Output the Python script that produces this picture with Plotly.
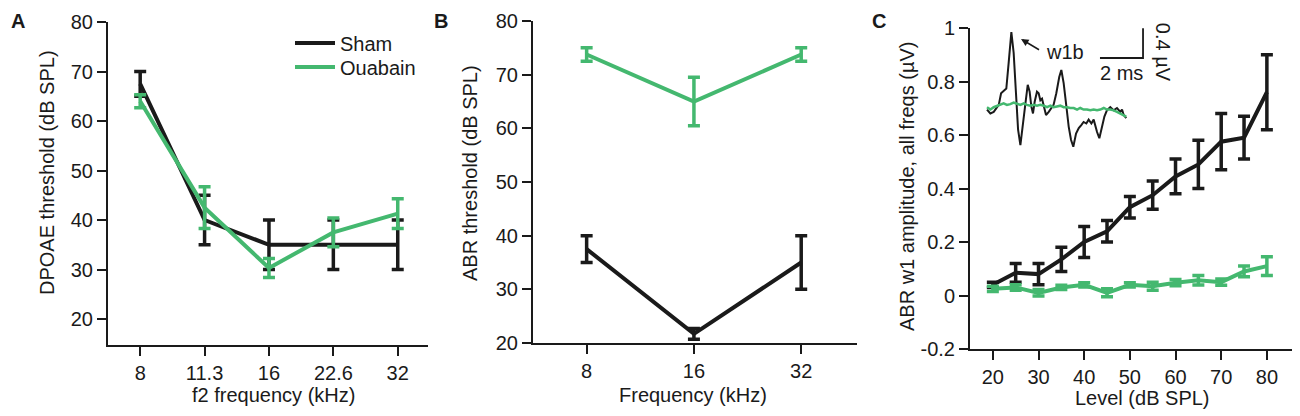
import plotly.graph_objects as go

# page body adds an 8px margin, so the figure is 8px smaller and all positions shifted
OFF = 8
W, H = 1300 - OFF, 416 - OFF
BLACK = "#1a1a1a"
GREEN = "#44B86F"
FONT = "Liberation Sans, Arial, sans-serif"
FS = 20

# ---- Panel A: DPOAE thresholds ----
a_freq = ["8", "11.3", "16", "22.6", "32"]
a_sham = [67.5, 40.0, 35.0, 35.0, 35.0]
a_sham_err = [2.5, 5.0, 5.0, 5.0, 5.0]
a_oua = [64.0, 42.5, 30.3, 37.5, 41.3]
a_oua_err = [1.3, 4.2, 1.9, 2.9, 3.0]
a_yticks = [20, 30, 40, 50, 60, 70, 80]

# ---- Panel B: ABR thresholds ----
b_freq = ["8", "16", "32"]
b_sham = [37.5, 21.7, 35.0]
b_sham_err = [2.5, 1.0, 5.0]
b_oua = [73.75, 65.0, 73.75]
b_oua_err = [1.25, 4.5, 1.25]
b_yticks = [20, 30, 40, 50, 60, 70, 80]

# ---- Panel C: ABR wave 1 amplitude ----
c_level = [20, 25, 30, 35, 40, 45, 50, 55, 60, 65, 70, 75, 80]
c_sham = [0.04, 0.085, 0.08, 0.135, 0.20, 0.24, 0.33, 0.375, 0.445, 0.49, 0.575, 0.59, 0.76]
c_sham_err = [0.01, 0.035, 0.04, 0.045, 0.058, 0.04, 0.04, 0.053, 0.065, 0.09, 0.105, 0.08, 0.14]
c_oua = [0.025, 0.03, 0.01, 0.03, 0.04, 0.01, 0.04, 0.035, 0.048, 0.057, 0.05, 0.09, 0.11]
c_oua_err = [0.01, 0.01, 0.012, 0.008, 0.008, 0.015, 0.008, 0.015, 0.012, 0.018, 0.012, 0.02, 0.035]
c_xticks = [20, 30, 40, 50, 60, 70, 80]
c_yticks = [-0.2, 0, 0.2, 0.4, 0.6, 0.8, 1]
c_yticktext = ["-0.2", "0", "0.2", "0.4", "0.6", "0.8", "1"]

# ---- Panel C inset: example ABR waveforms (ms, µV) ----
sham_t = [0.00, 0.16, 0.32, 0.56, 0.67, 0.79, 0.92, 1.03, 1.16, 1.27, 1.38, 1.48, 1.59, 1.71,
          1.83, 1.94, 2.03, 2.11, 2.19, 2.27, 2.38, 2.46, 2.54, 2.62, 2.70, 2.81, 2.94, 3.06,
          3.17, 3.30, 3.44, 3.54, 3.65, 3.78, 3.89, 4.00, 4.11, 4.24, 4.37, 4.49, 4.60, 4.73,
          4.84, 4.97, 5.08, 5.24, 5.35, 5.48, 5.59, 5.71, 5.87, 6.03, 6.19, 6.35, 6.43, 6.51, 6.63]
sham_v = [-0.02, -0.07, -0.05, 0.04, 0.19, 0.22, 0.25, 0.58, 0.98, 0.71, 0.15, -0.28, -0.48, -0.24,
          0.06, 0.30, 0.21, 0.02, -0.07, 0.08, 0.21, 0.19, 0.10, 0.12, 0.02, -0.09, -0.05, 0.00,
          0.04, 0.19, 0.40, 0.49, 0.32, 0.02, -0.24, -0.41, -0.50, -0.33, -0.26, -0.22, -0.18, -0.20,
          -0.15, -0.20, -0.15, -0.31, -0.39, -0.24, -0.11, -0.03, 0.01, -0.03, 0.00, -0.05, -0.02, -0.09, -0.13]
oua_t = [0.00, 0.16, 0.32, 0.48, 0.63, 0.79, 0.95, 1.11, 1.27, 1.43, 1.59, 1.75, 1.90, 2.06, 2.22,
         2.38, 2.54, 2.70, 2.86, 3.02, 3.17, 3.33, 3.49, 3.65, 3.81, 3.97, 4.13, 4.29, 4.44, 4.60,
         4.76, 4.92, 5.08, 5.24, 5.40, 5.56, 5.71, 5.87, 6.03, 6.19, 6.35, 6.51, 6.63]
oua_v = [0.01, -0.02, 0.01, 0.03, 0.04, 0.06, 0.04, 0.05, 0.07, 0.05, 0.04, 0.06, 0.04, 0.03, 0.04,
         0.03, 0.04, 0.03, 0.01, 0.03, 0.01, 0.02, 0.03, 0.01, 0.01, 0.00, 0.00, -0.02, 0.00, -0.02,
         -0.02, -0.03, -0.02, -0.03, -0.02, 0.00, -0.02, -0.02, -0.03, -0.05, -0.07, -0.09, -0.11]
scalebar_t = [5.38, 7.43, 7.43]
scalebar_v = [0.645, 0.645, 1.03]


def px(x):
    return (x - OFF) / W


def py(y):
    return 1 - (y - OFF) / H


fig = go.Figure()


def add_series(x, y, err, color, name, xa, ya, showlegend=False, legend="legend"):
    fig.add_trace(go.Scatter(
        x=x, y=y, mode="lines", name=name, showlegend=showlegend, legend=legend,
        line=dict(color=color, width=4),
        error_y=dict(type="data", array=err, color=color, thickness=3.5, width=6),
        xaxis=xa, yaxis=ya, cliponaxis=False,
    ))


add_series(a_freq, a_sham, a_sham_err, BLACK, "Sham", "x", "y", True, "legend")
add_series(a_freq, a_oua, a_oua_err, GREEN, "Ouabain", "x", "y", True, "legend2")
add_series(b_freq, b_sham, b_sham_err, BLACK, "Sham", "x2", "y2")
add_series(b_freq, b_oua, b_oua_err, GREEN, "Ouabain", "x2", "y2")
add_series(c_level, c_sham, c_sham_err, BLACK, "Sham", "x3", "y3")
add_series(c_level, c_oua, c_oua_err, GREEN, "Ouabain", "x3", "y3")

# inset traces
fig.add_trace(go.Scatter(x=sham_t, y=sham_v, mode="lines", showlegend=False,
                         line=dict(color=BLACK, width=2), xaxis="x4", yaxis="y4", cliponaxis=False))
fig.add_trace(go.Scatter(x=oua_t, y=oua_v, mode="lines", showlegend=False,
                         line=dict(color=GREEN, width=2.5), xaxis="x4", yaxis="y4", cliponaxis=False))
fig.add_trace(go.Scatter(x=scalebar_t, y=scalebar_v, mode="lines", showlegend=False,
                         line=dict(color=BLACK, width=1.8), xaxis="x4", yaxis="y4", cliponaxis=False))

tickfont = dict(family=FONT, size=FS, color=BLACK)
axis_common = dict(showline=True, linewidth=2, linecolor=BLACK, ticks="outside", ticklen=9,
                   tickwidth=2, tickcolor=BLACK, showgrid=False, zeroline=False, tickfont=tickfont,
                   mirror=False, automargin=False)

legend_common = dict(xanchor="left", yanchor="middle", bgcolor="rgba(0,0,0,0)",
                     font=dict(family=FONT, size=FS, color=BLACK), itemwidth=40, borderwidth=0)

fig.update_layout(
    template="none",
    width=W, height=H, margin=dict(l=0, r=0, t=0, b=0, pad=0, autoexpand=False),
    paper_bgcolor="white", plot_bgcolor="white",
    font=dict(family=FONT, size=FS, color=BLACK),
    xaxis=dict(domain=[px(108), px(428)], range=[-0.5, 4.47], type="category", anchor="y", **axis_common),
    yaxis=dict(domain=[py(345), py(22)], range=[14.75, 80], tickvals=a_yticks, anchor="x", **axis_common),
    xaxis2=dict(domain=[px(533), px(857)], range=[-0.5, 2.52], type="category", anchor="y2", **axis_common),
    yaxis2=dict(domain=[py(343), py(21)], range=[20, 80], tickvals=b_yticks, anchor="x2", **axis_common),
    xaxis3=dict(domain=[px(970), px(1292)], range=[15, 85.5], tickvals=c_xticks, anchor="y3", **axis_common),
    yaxis3=dict(domain=[py(349), py(28)], range=[-0.2, 1.0], tickvals=c_yticks, ticktext=c_yticktext,
                anchor="x3", **axis_common),
    xaxis4=dict(domain=[px(970), px(1292)], range=[(970 - 987) / 21, (1292 - 987) / 21], anchor="y4",
                visible=False, overlaying="x3", automargin=False),
    yaxis4=dict(domain=[py(349), py(28)], range=[(108 - 349) / 77.5, (108 - 28) / 77.5], anchor="x4",
                visible=False, overlaying="y3", automargin=False),
    legend=dict(x=px(290), y=py(43), **legend_common),
    legend2=dict(x=px(290), y=py(67), **legend_common),
    showlegend=True,
)

annotations = [
    # panel letters
    dict(text="<b>A</b>", x=px(18), y=py(21), font=dict(size=20)),
    dict(text="<b>B</b>", x=px(441), y=py(21), font=dict(size=20)),
    dict(text="<b>C</b>", x=px(879), y=py(21), font=dict(size=20)),
    # axis titles
    dict(text="DPOAE threshold (dB SPL)", x=px(47), y=py(173), textangle=-90),
    dict(text="f2 frequency (kHz)", x=px(273), y=py(395)),
    dict(text="ABR threshold (dB SPL)", x=px(470), y=py(173), textangle=-90),
    dict(text="Frequency (kHz)", x=px(693), y=py(395)),
    dict(text="ABR w1 amplitude, all freqs (µV)", x=px(907), y=py(187), textangle=-90),
    dict(text="Level (dB SPL)", x=px(1142), y=py(398)),
]
for a in annotations:
    a.update(xref="paper", yref="paper", showarrow=False, xanchor="center", yanchor="middle")
    f = dict(family=FONT, size=FS, color=BLACK)
    f.update(a.get("font", {}))
    a["font"] = f
    fig.add_annotation(**a)

# inset labels (in inset data coordinates)
fig.add_annotation(xref="x4", yref="y4", x=1.62, y=0.89, ax=2.55, ay=0.74, axref="x4", ayref="y4",
                   showarrow=True, arrowhead=2, arrowsize=1, arrowwidth=1.5, arrowcolor=BLACK, text="")
fig.add_annotation(xref="x4", yref="y4", x=2.70, y=0.72, text="w1b", showarrow=False,
                   xanchor="left", yanchor="middle", font=dict(family=FONT, size=FS, color=BLACK))
fig.add_annotation(xref="x4", yref="y4", x=6.4, y=0.45, text="2 ms", showarrow=False,
                   xanchor="center", yanchor="middle", font=dict(family=FONT, size=FS, color=BLACK))
fig.add_annotation(xref="x4", yref="y4", x=8.35, y=0.72, text="0.4 µV", showarrow=False, textangle=90,
                   xanchor="center", yanchor="middle", font=dict(family=FONT, size=FS, color=BLACK))

fig.write_html("out.html")
